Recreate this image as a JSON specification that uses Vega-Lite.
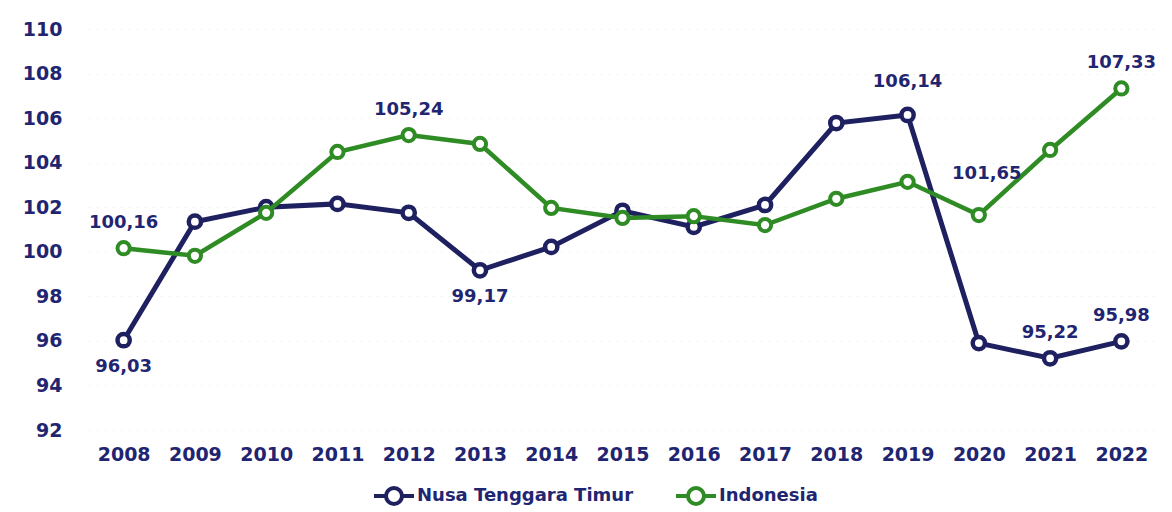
{
  "$schema": "https://vega.github.io/schema/vega-lite/v6.json",
  "width": 1069,
  "height": 401,
  "autosize": {"type": "none"},
  "padding": {"left": 88, "top": 29, "right": 15, "bottom": 82},
  "background": "white",
  "config": {"view": {"stroke": null}, "font": "DejaVu Sans"},
  "data": {"values": [
    {"year": "2008", "series": "Nusa Tenggara Timur", "value": 96.03, "label": "96,03", "pos": "below"},
    {"year": "2009", "series": "Nusa Tenggara Timur", "value": 101.35},
    {"year": "2010", "series": "Nusa Tenggara Timur", "value": 102.0},
    {"year": "2011", "series": "Nusa Tenggara Timur", "value": 102.15},
    {"year": "2012", "series": "Nusa Tenggara Timur", "value": 101.75},
    {"year": "2013", "series": "Nusa Tenggara Timur", "value": 99.17, "label": "99,17", "pos": "below"},
    {"year": "2014", "series": "Nusa Tenggara Timur", "value": 100.22},
    {"year": "2015", "series": "Nusa Tenggara Timur", "value": 101.84},
    {"year": "2016", "series": "Nusa Tenggara Timur", "value": 101.12},
    {"year": "2017", "series": "Nusa Tenggara Timur", "value": 102.1},
    {"year": "2018", "series": "Nusa Tenggara Timur", "value": 105.78},
    {"year": "2019", "series": "Nusa Tenggara Timur", "value": 106.14, "label": "106,14", "pos": "high"},
    {"year": "2020", "series": "Nusa Tenggara Timur", "value": 95.9},
    {"year": "2021", "series": "Nusa Tenggara Timur", "value": 95.22, "label": "95,22", "pos": "above"},
    {"year": "2022", "series": "Nusa Tenggara Timur", "value": 95.98, "label": "95,98", "pos": "above"},
    {"year": "2008", "series": "Indonesia", "value": 100.16, "label": "100,16", "pos": "above"},
    {"year": "2009", "series": "Indonesia", "value": 99.82},
    {"year": "2010", "series": "Indonesia", "value": 101.75},
    {"year": "2011", "series": "Indonesia", "value": 104.48},
    {"year": "2012", "series": "Indonesia", "value": 105.24, "label": "105,24", "pos": "above"},
    {"year": "2013", "series": "Indonesia", "value": 104.84},
    {"year": "2014", "series": "Indonesia", "value": 101.97},
    {"year": "2015", "series": "Indonesia", "value": 101.52},
    {"year": "2016", "series": "Indonesia", "value": 101.6},
    {"year": "2017", "series": "Indonesia", "value": 101.2},
    {"year": "2018", "series": "Indonesia", "value": 102.38},
    {"year": "2019", "series": "Indonesia", "value": 103.14},
    {"year": "2020", "series": "Indonesia", "value": 101.65, "label": "101,65", "pos": "higher"},
    {"year": "2021", "series": "Indonesia", "value": 104.57},
    {"year": "2022", "series": "Indonesia", "value": 107.33, "label": "107,33", "pos": "above"}
  ]},
  "encoding": {
    "x": {
      "field": "year", "type": "ordinal",
      "scale": {"type": "point", "padding": 0.5},
      "axis": {"title": null, "labelAngle": 0, "labelFontSize": 19, "labelFontWeight": "bold", "labelColor": "#1f2570", "labelPadding": 15, "domain": false, "ticks": false, "grid": false}
    },
    "y": {
      "field": "value", "type": "quantitative",
      "scale": {"domain": [92, 110], "nice": false, "zero": false},
      "axis": {"title": null, "values": [92, 94, 96, 98, 100, 102, 104, 106, 108, 110], "labelFontSize": 19, "labelFontWeight": "bold", "labelColor": "#1f2570", "labelPadding": 26, "domain": false, "ticks": false, "grid": true, "gridColor": "#f1f1f1", "gridDash": [2, 6]}
    }
  },
  "layer": [
    {
      "transform": [{"filter": "datum.series === 'Nusa Tenggara Timur'"}],
      "mark": {"type": "line", "strokeWidth": 5},
      "encoding": {
        "color": {
          "field": "series", "type": "nominal",
          "scale": {"domain": ["Nusa Tenggara Timur", "Indonesia"], "range": ["#1e2060", "#2f8c24"]},
          "legend": {
            "title": null, "orient": "none", "legendX": 284, "legendY": 445, "direction": "horizontal",
            "symbolType": "M -1 0 L -0.4 0 M 0.4 0 A 0.4 0.4 0 1 1 -0.4 0 A 0.4 0.4 0 1 1 0.4 0 M 0.4 0 L 1 0",
            "symbolSize": 1600, "symbolStrokeWidth": 4, "labelFontSize": 18, "labelFontWeight": "bold",
            "labelColor": "#1f2570", "labelOffset": 1, "columnPadding": 34, "labelLimit": 400,
            "encode": {"symbols": {"update": {"fill": {"value": "white"}}}}
          }
        }
      }
    },
    {
      "transform": [{"filter": "datum.series === 'Nusa Tenggara Timur'"}],
      "mark": {"type": "point", "shape": "circle", "filled": true, "fill": "white", "size": 150, "strokeWidth": 4.5, "opacity": 1},
      "encoding": {"stroke": {"field": "series", "type": "nominal", "scale": {"domain": ["Nusa Tenggara Timur", "Indonesia"], "range": ["#1e2060", "#2f8c24"]}, "legend": null}}
    },
    {
      "transform": [{"filter": "datum.series === 'Indonesia'"}],
      "mark": {"type": "line", "strokeWidth": 4.5},
      "encoding": {"color": {"field": "series", "type": "nominal"}}
    },
    {
      "transform": [{"filter": "datum.series === 'Indonesia'"}],
      "mark": {"type": "point", "shape": "circle", "filled": true, "fill": "white", "size": 150, "strokeWidth": 4, "opacity": 1},
      "encoding": {"stroke": {"field": "series", "type": "nominal", "legend": null}}
    },
    {
      "transform": [{"filter": "datum.pos === 'above'"}],
      "mark": {"type": "text", "dy": -25, "fontSize": 18, "fontWeight": "bold", "color": "#1f2570"},
      "encoding": {"text": {"field": "label"}}
    },
    {
      "transform": [{"filter": "datum.pos === 'below'"}],
      "mark": {"type": "text", "dy": 27, "fontSize": 18, "fontWeight": "bold", "color": "#1f2570"},
      "encoding": {"text": {"field": "label"}}
    },
    {
      "transform": [{"filter": "datum.pos === 'high'"}],
      "mark": {"type": "text", "dy": -33, "fontSize": 18, "fontWeight": "bold", "color": "#1f2570"},
      "encoding": {"text": {"field": "label"}}
    },
    {
      "transform": [{"filter": "datum.pos === 'higher'"}],
      "mark": {"type": "text", "dy": -41, "dx": 8, "fontSize": 18, "fontWeight": "bold", "color": "#1f2570"},
      "encoding": {"text": {"field": "label"}}
    }
  ]
}
